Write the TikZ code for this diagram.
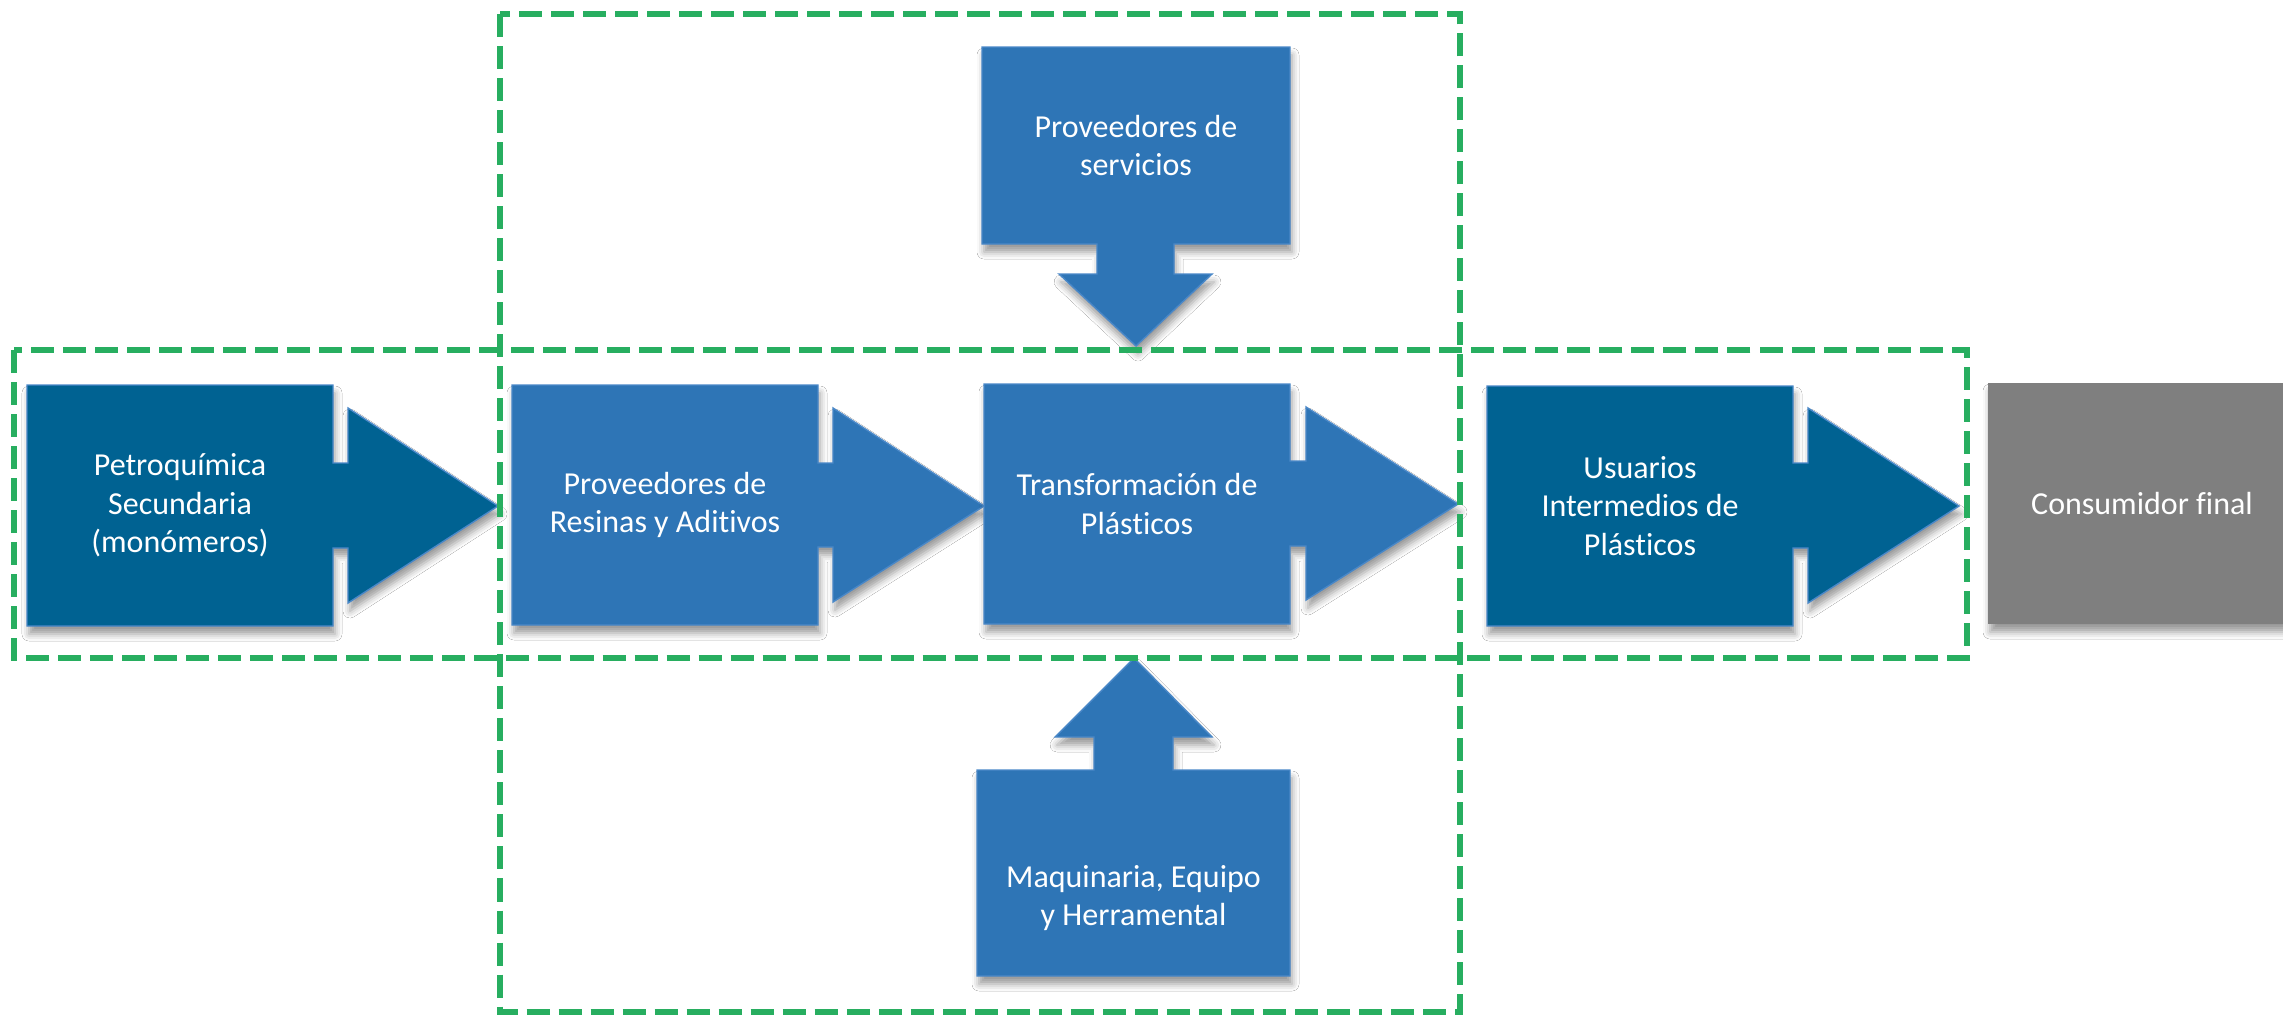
\documentclass[tikz,border=0pt]{standalone}
\usepackage{fontspec}
\setmainfont{Carlito}[Ligatures=NoCommon]
\usetikzlibrary{shadows.blur}
\definecolor{dkblue}{RGB}{0,98,146}
\definecolor{mdblue}{RGB}{46,117,182}
\definecolor{edgeblue}{RGB}{74,136,200}
\definecolor{cgray}{RGB}{127,127,127}
\definecolor{dgreen}{RGB}{40,174,96}
\tikzset{
  shad/.style={blur shadow={shadow xshift=0.02cm, shadow yshift=-0.08cm, shadow blur radius=0.07cm, shadow opacity=40}},
  blkshape/.style={shad, draw=edgeblue, line width=0.4pt},
  blktext/.style={rectangle, inner sep=0pt, text=white, align=center,
    font=\fontsize{9.1}{10.9}\selectfont},
  grpbox/.style={draw=dgreen, line width=0.06cm, dash pattern=on 0.23cm off 0.09cm}
}
\begin{document}
\begin{tikzpicture}[x=0.01cm, y=-0.01cm]
\useasboundingbox (0,0) rectangle (2283,1018);
\fill[white] (0,0) rectangle (2283,1018);

% box + block arrow shapes
\fill[dkblue, blkshape] (27,385) -- (333,385) -- (333,463) -- (348,463) -- (348,408) -- (498,506)
  -- (348,603) -- (348,548) -- (333,548) -- (333,626) -- (27,626) -- cycle;
\fill[mdblue, blkshape] (512,385) -- (818,385) -- (818,463) -- (833,463) -- (833,408) -- (984,506)
  -- (833,602) -- (833,547) -- (818,547) -- (818,625) -- (512,625) -- cycle;
\fill[mdblue, blkshape] (984,384) -- (1290,384) -- (1290,461) -- (1306,461) -- (1306,407) -- (1458,504)
  -- (1306,600) -- (1306,546) -- (1290,546) -- (1290,624) -- (984,624) -- cycle;
\fill[dkblue, blkshape] (1487,386) -- (1793,386) -- (1793,463) -- (1808,463) -- (1808,408) -- (1959,506)
  -- (1808,603) -- (1808,548) -- (1793,548) -- (1793,626) -- (1487,626) -- cycle;
\fill[mdblue, blkshape] (982,47) -- (1290,47) -- (1290,244) -- (1174,244) -- (1174,274) -- (1212,274)
  -- (1136,346) -- (1059,274) -- (1097,274) -- (1097,244) -- (982,244) -- cycle;
\fill[mdblue, blkshape] (977,976) -- (977,770) -- (1094,770) -- (1094,737) -- (1055,737) -- (1134,658)
  -- (1212,737) -- (1173,737) -- (1173,770) -- (1290,770) -- (1290,976) -- cycle;
\fill[cgray, shad] (1988,383) rectangle (2290,624);

% named text nodes
\node[blktext, minimum width=3.07cm, minimum height=2.41cm] (petro) at (180,505.5)
  {Petroquímica\\Secundaria\\(monómeros)};
\node[blktext, minimum width=3.07cm, minimum height=2.40cm] (resinas) at (665,505)
  {Proveedores de\\Resinas y Aditivos};
\node[blktext, minimum width=3.07cm, minimum height=2.40cm] (transf) at (1137,504)
  {Transformación de\\Plásticos};
\node[blktext, minimum width=3.07cm, minimum height=2.40cm] (usuarios) at (1640,506)
  {Usuarios\\Intermedios de\\Plásticos};
\node[blktext] (servicios) at (1136,145.5) {Proveedores de\\servicios};
\node[blktext] (maq) at (1133.5,898) {Maquinaria, Equipo\\y Herramental};
\node[blktext] (consumidor) at (2142,503.5) {Consumidor final};

% dashed groups
\draw[grpbox] (14,350) rectangle (1967,658);
\draw[grpbox] (500,14) rectangle (1460,1012);
\end{tikzpicture}
\end{document}
